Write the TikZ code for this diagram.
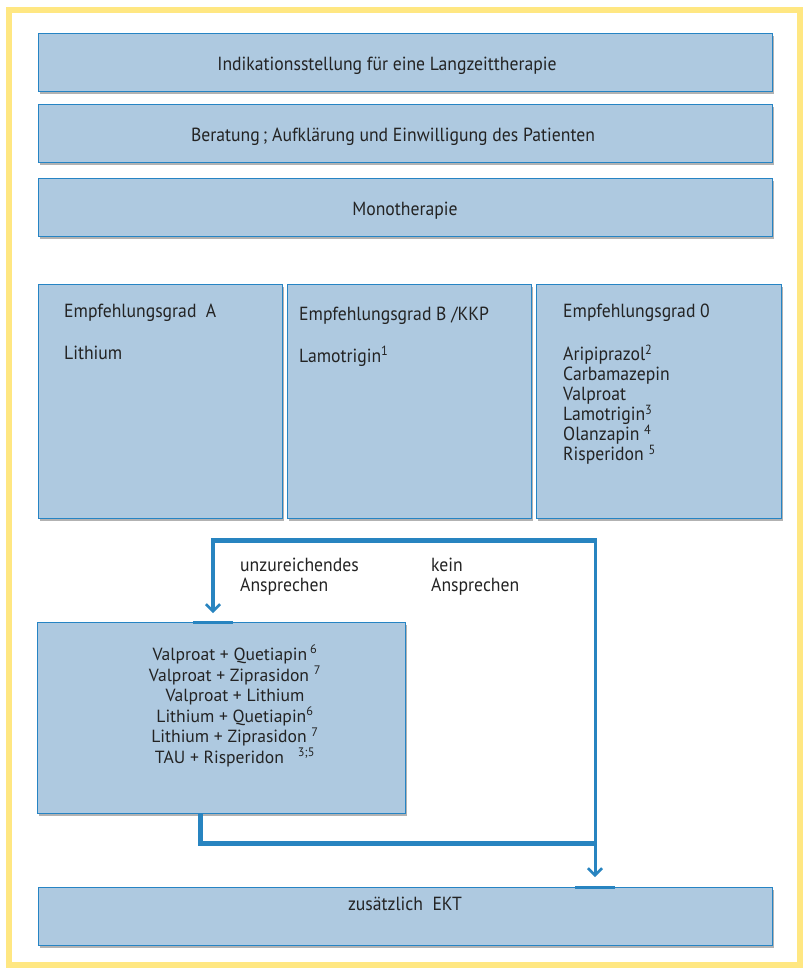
\documentclass[tikz,border=0pt]{standalone}
\usepackage{fontspec}
\setmainfont{PT Sans}[FakeStretch=0.93]
\newfontfamily\widefont{PT Sans}
\usetikzlibrary{arrows.meta,shadows,calc}
\definecolor{boxfill}{RGB}{174,201,224}
\definecolor{boxline}{RGB}{38,132,196}
\definecolor{connc}{RGB}{40,132,192}
\definecolor{frameyellow}{RGB}{255,231,130}
\definecolor{txt}{RGB}{35,35,35}
\begin{document}
\begin{tikzpicture}[x=1pt,y=-1pt,
  box/.style={draw=boxline, line width=1.3pt, fill=boxfill,
    drop shadow={shadow xshift=1.8pt, shadow yshift=-2.5pt, fill=black, opacity=.3},
    anchor=north west, inner sep=0pt},
  lbl/.style={text=txt, font=\fontsize{19}{20.5}\selectfont, inner sep=0pt, anchor=base west},
  wlbl/.style={text=txt, font=\widefont\fontsize{17.6}{20.5}\selectfont, inner sep=0pt, anchor=base},
  trunk/.style={draw=connc, line width=5pt},
  branch/.style={draw=connc, line width=4.5pt, -{Straight Barb[length=7pt,width=14pt,line width=2.6pt]}},
  thinbranch/.style={draw=connc, line width=3pt, -{Straight Barb[length=7pt,width=14pt,line width=2.6pt]}},
  topbar/.style={draw=connc, line width=3pt},
]
\useasboundingbox (0,0) rectangle (804,969);
\fill[white] (0,0) rectangle (804,969);
\draw[frameyellow, line width=6pt] (9,10) rectangle (800,965);

% top boxes
\node[box, minimum width=734pt, minimum height=58pt] (b1) at (38,33) {};
\node[box, minimum width=734pt, minimum height=58pt] (b2) at (38,104) {};
\node[box, minimum width=734pt, minimum height=58pt] (b3) at (38,178) {};
\node[lbl, anchor=base] (t1) at (387,70) {Indikationsstellung für eine Langzeittherapie};
\node[lbl, anchor=base] (t2) at (393,141.5) {Beratung\,; Aufklärung und Einwilligung des Patienten};
\node[lbl, anchor=base] (t3) at (405,215) {Monotherapie};

% columns
\node[box, minimum width=244pt, minimum height=234pt] (c1) at (38,284) {};
\node[box, minimum width=244pt, minimum height=234pt] (c2) at (287,284) {};
\node[box, minimum width=245pt, minimum height=234pt] (c3) at (536,284) {};

\node[lbl] (c1h) at (64,317.5) {Empfehlungsgrad~ A};
\node[lbl] (c1a) at (64,359) {Lithium};
\node[lbl] (c2h) at (299,320.5) {Empfehlungsgrad B /KKP};
\node[lbl] (c2a) at (299,362) {Lamotrigin\textsuperscript{1}};
\node[lbl] (c3h) at (563,317.5) {Empfehlungsgrad 0};
\node[lbl] (c3a) at (563,360.5) {Aripiprazol\textsuperscript{2}};
\node[lbl] (c3b) at (563,380.5) {Carbamazepin};
\node[lbl] (c3c) at (563,400.5) {Valproat};
\node[lbl] (c3d) at (563,420.5) {Lamotrigin\textsuperscript{3}};
\node[lbl] (c3e) at (563,440.5) {Olanzapin \textsuperscript{4}};
\node[lbl] (c3f) at (563,460.5) {Risperidon \textsuperscript{5}};

% lower boxes
\node[box, minimum width=368pt, minimum height=191pt] (lb) at (37,622) {};
\node[box, minimum width=734pt, minimum height=58pt] (ekt) at (38,887) {};

\node[wlbl] (l1) at (235,660) {Valproat + Quetiapin\,\textsuperscript{6}};
\node[wlbl] (l2) at (235,681) {Valproat + Ziprasidon \textsuperscript{7}};
\node[wlbl] (l3) at (235,701.5) {Valproat + Lithium};
\node[wlbl] (l4) at (235,722) {Lithium + Quetiapin\textsuperscript{6}};
\node[wlbl] (l5) at (235,742.5) {Lithium + Ziprasidon \textsuperscript{7}};
\node[wlbl] (l6) at (235,763) {TAU + Risperidon~~ \textsuperscript{3;5}};

\node[lbl, anchor=base] (te) at (405,910) {zusätzlich~ EKT};

% connectors
\coordinate (jl) at (213,540);
\coordinate (jr) at (595,540);
\coordinate (jb) at (200,843);
\draw[trunk] (c2.south -| lb.east) -- (c2.south -| lb.east |- jl);
\draw[trunk] ([xshift=-2.2pt]jl) -- ([xshift=1.5pt]jr);
\draw[branch, shorten >=9pt] (jl) -- (lb.north -| jl);
\draw[thinbranch, shorten >=10pt] (jr) -- (ekt.north -| jr);
\draw[trunk] (lb.south -| jb) -- (jb) -- ([xshift=1.5pt]jb -| jr);
\draw[topbar] ([xshift=-20pt]lb.north -| jl) -- ([xshift=20pt]lb.north -| jl);
\draw[topbar] ([xshift=-20pt]ekt.north -| jr) -- ([xshift=20pt]ekt.north -| jr);

\node[lbl] (u1) at (240,571) {unzureichendes};
\node[lbl] (u2) at (240,591) {Ansprechen};
\node[lbl] (k1) at (431,571) {kein};
\node[lbl] (k2) at (431,591) {Ansprechen};
\end{tikzpicture}
\end{document}
